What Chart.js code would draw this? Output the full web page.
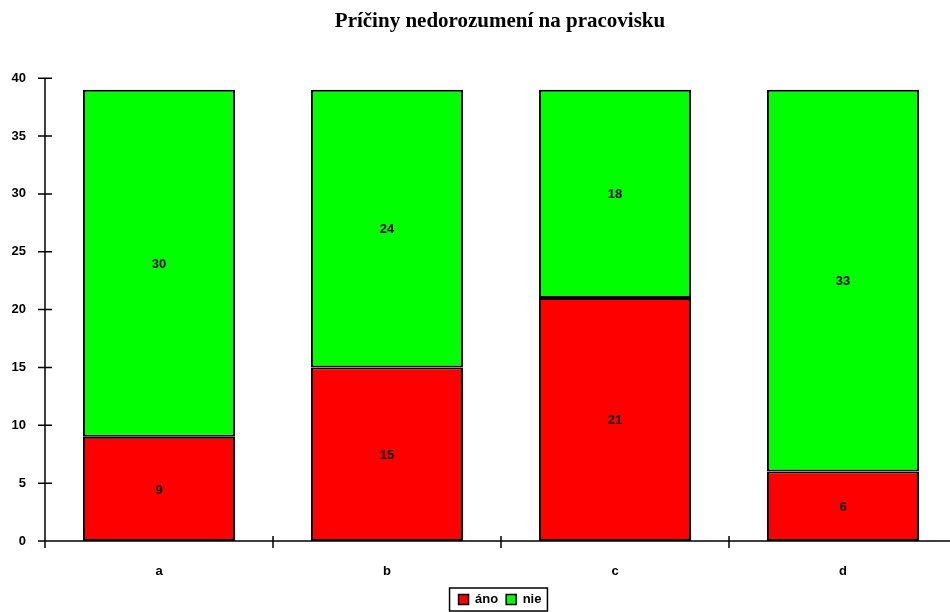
<!DOCTYPE html>
<html>
<head>
<meta charset="utf-8">
<script src="https://cdn.jsdelivr.net/npm/chart.js@4"></script>
<style>
  body { margin: 0; overflow: hidden; background: #fff; }
  #wrap { width: 1000px; height: 612px; position: relative; }
</style>
</head>
<body>
<div id="wrap"><canvas id="graf"></canvas></div>
<script>
const categories = ["a", "b", "c", "d"];
const anoValues = [9, 15, 21, 6];
const nieValues = [30, 24, 18, 33];
const yTicks = [0, 5, 10, 15, 20, 25, 30, 35, 40];

const font = "'Liberation Sans', Arial, sans-serif";

// hodnoty do stredu kazdeho segmentu
const valueLabels = {
  id: "valueLabels",
  afterDatasetsDraw(chart) {
    const ctx = chart.ctx;
    ctx.save();
    ctx.font = "bold 13px " + font;
    ctx.fillStyle = "#000";
    ctx.textAlign = "center";
    ctx.textBaseline = "middle";
    chart.data.datasets.forEach((ds, i) => {
      chart.getDatasetMeta(i).data.forEach((bar, j) => {
        const mid = (bar.y + bar.base) / 2;
        ctx.fillText(ds.data[j], bar.x, mid + 1);
      });
    });
    ctx.restore();
  },
};

// osi s krizovymi znackami + ramik legendy
const axesAndFrame = {
  id: "axesAndFrame",
  afterDraw(chart) {
    const ctx = chart.ctx;
    const x = chart.scales.x;
    const y = chart.scales.y;
    ctx.save();
    ctx.strokeStyle = "#000";
    ctx.lineWidth = 1.5;
    ctx.beginPath();
    ctx.moveTo(x.left, y.top);
    ctx.lineTo(x.left, y.bottom);
    ctx.moveTo(x.left, y.bottom);
    ctx.lineTo(x.right, y.bottom);
    for (const v of yTicks) {
      const py = y.getPixelForValue(v);
      ctx.moveTo(x.left - 7, py);
      ctx.lineTo(x.left + 7, py);
    }
    for (let i = 0; i <= categories.length; i++) {
      const px = x.getPixelForValue(i - 0.5);
      ctx.moveTo(px, y.bottom - 5);
      ctx.lineTo(px, y.bottom + 7);
    }
    ctx.stroke();

    const boxes = chart.legend.legendHitBoxes;
    if (boxes && boxes.length) {
      const l = Math.min(...boxes.map((b) => b.left)) - 9;
      const r = Math.max(...boxes.map((b) => b.left + b.width)) + 6;
      const t = Math.min(...boxes.map((b) => b.top)) - 5;
      const btm = Math.max(...boxes.map((b) => b.top + b.height)) + 5;
      ctx.lineWidth = 1.5;
      ctx.strokeRect(l, t, r - l, btm - t);
    }
    ctx.restore();
  },
};

new Chart(document.getElementById("graf"), {
  type: "bar",
  data: {
    labels: categories,
    datasets: [
      {
        label: "áno",
        data: anoValues,
        backgroundColor: "#ff0000",
        borderColor: "#000",
        borderWidth: 2,
        borderSkipped: false,
      },
      {
        label: "nie",
        data: nieValues,
        backgroundColor: "#00ff00",
        borderColor: "#000",
        borderWidth: 2,
        borderSkipped: false,
      },
    ],
  },
  options: {
    responsive: true,
    maintainAspectRatio: false,
    animation: false,
    devicePixelRatio: 1,
    layout: { padding: { top: 0, left: 0, right: 0, bottom: -4 } },
    datasets: {
      bar: { categoryPercentage: 1, barPercentage: 0.667 },
    },
    scales: {
      x: {
        stacked: true,
        afterFit(scale) {
          scale.height = 44;
        },
        grid: { display: false, drawTicks: false },
        border: { display: false },
        ticks: {
          color: "#000",
          font: { family: font, size: 13, weight: "bold" },
          padding: 23,
        },
      },
      y: {
        stacked: true,
        min: 0,
        max: 40,
        afterFit(scale) {
          scale.width = 45;
        },
        afterBuildTicks(scale) {
          scale.ticks = yTicks.map((v) => ({ value: v }));
        },
        grid: { display: false, drawTicks: false },
        border: { display: false },
        ticks: {
          color: "#000",
          font: { family: font, size: 13, weight: "bold" },
          padding: 19,
        },
      },
      // prazdna os vpravo, aby graf siel az za okraj ako v originali
      pravo: {
        position: "right",
        display: true,
        afterFit(scale) {
          scale.width = 43;
        },
        grid: { display: false, drawTicks: false },
        border: { display: false },
        ticks: { display: false },
      },
    },
    plugins: {
      title: {
        display: true,
        text: "Príčiny nedorozumení na pracovisku",
        color: "#000",
        font: { family: "'Liberation Serif', 'Times New Roman', serif", size: 21, weight: "bold" },
        padding: { top: 9, bottom: 44 },
      },
      legend: {
        display: true,
        position: "bottom",
        labels: {
          color: "#000",
          font: { family: font, size: 13, weight: "bold" },
          boxWidth: 10,
          boxHeight: 10,
          padding: 8,
          generateLabels(chart) {
            return chart.data.datasets.map((ds, i) => ({
              text: ds.label,
              fillStyle: ds.backgroundColor,
              strokeStyle: "#000",
              lineWidth: 1.5,
              datasetIndex: i,
              fontColor: "#000",
            }));
          },
        },
      },
      tooltip: { enabled: false },
    },
  },
  plugins: [valueLabels, axesAndFrame],
});
</script>
</body>
</html>
